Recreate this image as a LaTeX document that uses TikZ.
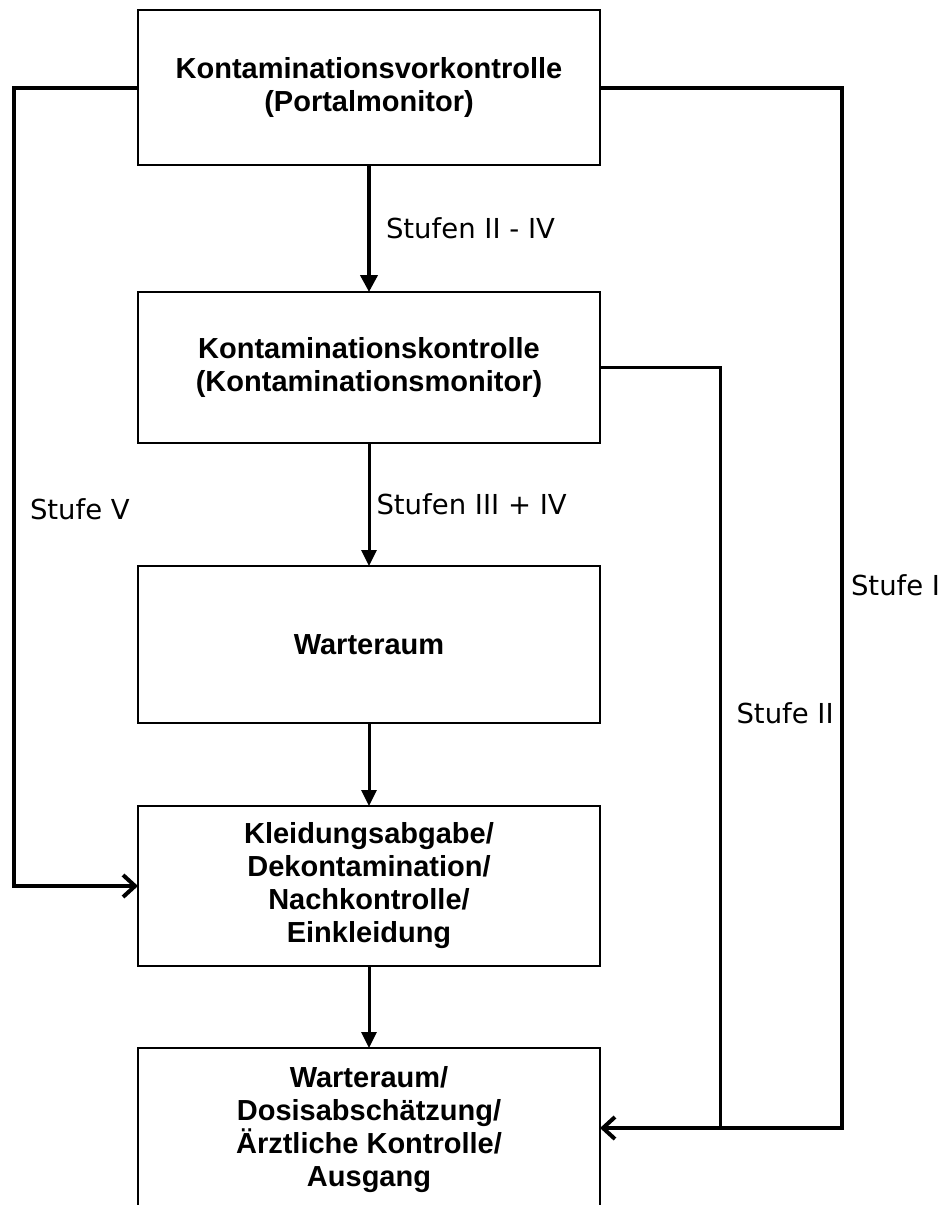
\documentclass[tikz,border=0pt]{standalone}
\usepackage{fontspec}
\setmainfont{Liberation Sans}
\newfontfamily\lblfont{DejaVu Sans}
\usetikzlibrary{arrows.meta,positioning}

\begin{document}
\begin{tikzpicture}[
  x=1pt, y=-1pt,
  stage/.style={
    rectangle, draw=black, line width=1.5pt, fill=white,
    minimum width=462pt, align=center, inner sep=0pt, outer sep=0pt,
    font=\fontsize{29}{33}\selectfont\bfseries
  },
  arr/.style={-{Triangle[length=16pt,width=15pt]}, line width=3pt},
  side/.style={-{Straight Barb[length=12pt,width=22pt]}, line width=4pt},
  lbl/.style={font=\lblfont\fontsize{27.5}{32}\selectfont, inner sep=0pt},
]
  \useasboundingbox (0,0) rectangle (942,1205);

  \node[stage, minimum height=155pt] (vorko) at (369,87.5) {Kontaminationsvorkontrolle\\(Portalmonitor)};
  \node[stage, minimum height=151pt, below=127pt of vorko] (konko) {Kontaminationskontrolle\\(Kontaminationsmonitor)};
  \node[stage, minimum height=157pt, below=123pt of konko] (warte) {Warteraum};
  \node[stage, minimum height=160pt, below=83pt of warte] (kleid) {Kleidungsabgabe/\\Dekontamination/\\Nachkontrolle/\\Einkleidung};
  \node[stage, minimum height=164pt, below=82pt of kleid] (ausg) {Warteraum/\\Dosisabschätzung/\\Ärztliche Kontrolle/\\Ausgang};

  \coordinate (lft) at (14,0);
  \coordinate (rgt) at (842,0);
  \coordinate (join) at (720,1128);

  \draw[arr, line width=4pt, -{Triangle[length=17pt,width=17pt]}] (vorko) -- node[right=15pt,lbl]{Stufen II - IV} (konko);
  \draw[arr] (konko) -- node[right=6pt,lbl]{Stufen III + IV} (warte);
  \draw[arr] (warte) -- (kleid);
  \draw[arr] (kleid) -- (ausg);

  \draw[side] (vorko.west) -- (vorko.west -| lft) |- node[pos=0.264,right=14pt,lbl]{Stufe V} (kleid.west);
  \draw[side] (vorko.east) -- (vorko.east -| rgt) |- node[pos=0.239,right=7pt,lbl]{Stufe I} (ausg.east |- join);
  \draw[line width=3pt] (konko.east) -| node[pos=0.727,right=15pt,lbl]{Stufe II} (join);
\end{tikzpicture}
\end{document}
